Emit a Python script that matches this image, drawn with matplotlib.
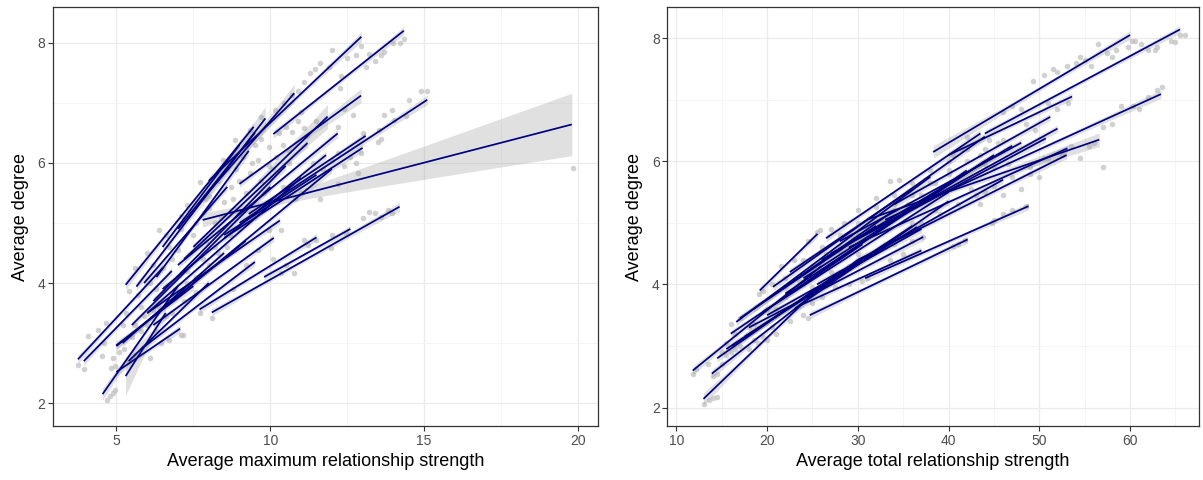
import numpy as np
import matplotlib
matplotlib.use("Agg")
import matplotlib.pyplot as plt
from matplotlib.ticker import MultipleLocator

plt.rcParams['font.family'] = ['Liberation Sans', 'DejaVu Sans']

# ---- fitted lines per network: average maximum relationship strength ----
max_x0 = [8.0, 10.1, 7.8, 5.30, 5.65, 3.75, 3.94, 4.55, 5.0, 4.99, 5.3, 7.8, 9.0, 8.5, 9.3,
          8.1, 7.7, 9.8, 6.3, 5.9, 7.5, 7.0, 6.5, 7.2, 6.2, 6.0, 5.5, 6.8, 6.0, 6.2, 5.2,
          5.0, 5.4, 5.8, 9.0, 8.5, 6.5, 7.0]
max_y0 = [5.70, 6.48, 5.40, 3.97, 3.94, 2.73, 2.70, 2.15, 2.52, 2.96, 2.45, 5.05, 5.00, 4.75, 5.15,
          3.51, 3.56, 4.10, 4.10, 4.00, 4.60, 4.30, 3.90, 4.40, 3.70, 3.50, 3.30, 3.70, 3.50, 3.30, 3.00,
          2.95, 2.70, 2.90, 5.65, 4.80, 4.60, 4.90]
max_x1 = [12.96, 14.34, 10.78, 9.46, 9.84, 6.5, 6.8, 7.0, 7.07, 7.5, 6.6, 19.8, 15.1, 13.0, 13.1,
          14.2, 11.5, 12.6, 9.3, 8.6, 11.86, 12.19, 11.81, 11.21, 10.5, 11.0, 10.0, 12.0, 10.31, 10.11, 8.5,
          9.2, 8.0, 9.5, 12.95, 11.5, 9.0, 9.5]
max_y1 = [8.10, 8.20, 7.16, 6.60, 6.74, 4.25, 4.20, 3.95, 3.24, 3.95, 3.50, 6.64, 7.05, 6.25, 6.45,
          5.27, 4.76, 4.90, 6.20, 5.60, 6.77, 6.49, 6.13, 6.33, 5.95, 5.75, 5.60, 5.90, 5.04, 4.75, 4.50,
          4.70, 4.00, 4.35, 7.12, 5.80, 6.30, 6.50]
max_se0 = [.07, .07, .07, .08, .07, .07, .07, .10, .07, .07, .32, .12, .07, .06, .06,
           .06, .06, .06, .06, .06, .06, .06, .06, .06, .06, .06, .06, .06, .06, .06, .06,
           .06, .06, .06, .06, .06, .06, .06]
max_se1 = [.08, .07, .15, .08, .20, .07, .07, .07, .07, .07, .12, .52, .08, .07, .07,
           .07, .06, .06, .08, .06, .20, .07, .07, .07, .07, .07, .07, .07, .06, .06, .06,
           .06, .06, .06, .12, .06, .06, .06]

# ---- fitted lines per network: average total relationship strength ----
tot_x0 = [11.8, 12.98, 13.9, 16.6, 16.1, 19.18, 20.65, 24.7, 30.8, 38.3, 26.5, 33.0, 31.0, 44.0,
          40.0, 34.0, 30.0, 29.0, 27.0, 22.0, 21.0, 18.0, 17.5, 15.5, 20.0, 23.0, 24.0, 26.0,
          28.0, 22.5, 17.0, 19.5, 25.5, 30.0, 14.5, 16.0, 23.5, 18.5]
tot_y0 = [2.60, 2.14, 2.55, 3.39, 3.00, 3.90, 3.96, 3.50, 4.10, 6.15, 4.75, 5.05, 5.05, 6.45,
          6.10, 5.30, 4.75, 4.60, 4.50, 3.85, 3.70, 3.30, 3.15, 2.95, 3.50, 3.60, 4.10, 4.40,
          4.70, 4.20, 3.45, 3.55, 4.00, 4.40, 2.80, 3.20, 3.65, 3.60]
tot_x1 = [26.0, 24.0, 30.0, 38.0, 36.0, 25.55, 44.0, 42.1, 48.8, 60.0, 43.5, 63.4, 56.6, 65.5,
          53.6, 51.2, 52.0, 53.1, 50.7, 45.0, 42.0, 37.2, 36.5, 33.0, 37.0, 40.0, 44.0, 47.0,
          48.0, 36.0, 34.0, 40.0, 46.0, 53.0, 28.0, 30.5, 37.0, 32.0]
tot_y1 = [4.30, 3.70, 4.40, 5.75, 4.95, 4.82, 6.40, 4.73, 5.27, 8.05, 6.45, 7.09, 6.35, 8.14,
          7.05, 6.72, 6.53, 6.21, 6.37, 6.10, 5.85, 4.77, 4.93, 4.65, 4.90, 5.35, 6.00, 6.25,
          6.30, 5.55, 5.20, 5.50, 5.70, 6.10, 4.20, 4.65, 4.55, 4.95]
tot_se0 = [.07, .10, .07, .06, .06, .06, .06, .06, .06, .10, .06, .06, .06, .06,
           .06, .06, .06, .06, .06, .06, .06, .06, .06, .06, .06, .06, .06, .06,
           .06, .06, .06, .06, .06, .06, .06, .06, .06, .06]
tot_se1 = [.06, .06, .06, .06, .06, .06, .06, .06, .06, .07, .07, .07, .11, .06,
           .06, .06, .06, .06, .06, .06, .06, .06, .06, .06, .06, .06, .06, .06,
           .06, .06, .06, .06, .06, .06, .06, .06, .06, .06]

# ---- observations (average maximum strength, average degree) ----
max_pts_x = [14.34, 14.2, 13.6, 13.7, 12.96, 13.2, 12.8, 12.5, 12.0, 11.9, 11.6, 11.46, 11.3, 12.27,
             13.4, 13.1, 12.3, 11.1, 10.9, 14.0, 14.9, 15.09, 14.5, 13.96, 14.02, 13.7, 14.4, 13.52,
             13.6, 13.5, 13.02, 12.96, 12.6, 12.4, 12.84, 12.2, 12.0, 19.84, 10.71, 11.1, 10.5, 10.4,
             9.96, 9.7, 10.2, 10.6, 11.4, 11.7, 11.2, 11.5, 11.0, 12.2, 12.4, 12.7, 13.21, 13.4, 13.6,
             13.84, 13.97, 13.02, 12.46, 11.96, 11.21, 11.1, 10.78, 10.34, 9.96, 10.34, 10.1, 10.5,
             11.5, 12.0, 8.11, 7.71, 9.2, 9.6, 8.8, 3.75, 3.94, 4.52, 4.69, 4.78, 4.88, 4.95, 4.84,
             4.96, 6.09, 6.46, 7.09, 7.15, 6.7, 5.6, 5.4, 5.25, 5.8, 4.4, 4.09, 4.65, 5.4, 5.59, 6.4,
             7.09, 7.71, 8.0, 8.46, 8.84, 9.34, 9.71, 10.15, 10.46, 10.71, 6.0, 6.6, 7.3, 8.71, 9.34,
             9.96, 8.9, 8.2, 7.5, 7.0, 6.5, 7.3, 8.0, 8.6, 9.0, 7.9, 6.9, 6.2, 6.6, 7.6, 8.3, 9.3,
             9.8, 10.4, 10.8, 11.0, 8.0, 8.5, 9.0, 9.6, 7.6, 6.8, 6.3, 5.8, 5.2, 4.6, 6.0,
             6.2, 6.7, 7.1, 7.4, 7.9, 8.3, 8.6, 9.1, 9.5, 8.4, 8.8, 9.2, 9.7, 10.1, 10.6, 6.4,
             6.9, 7.3, 7.8, 8.2, 8.7, 9.1, 9.5, 10.0, 10.5, 5.6, 5.9, 6.3, 6.8, 7.2, 7.6, 5.1,
             5.5, 4.9, 5.3, 5.7, 6.1, 11.6, 12.2, 12.8, 8.9, 9.4, 10.3, 10.9]
max_pts_y = [8.07, 7.99, 7.79, 7.85, 7.94, 7.82, 7.80, 7.75, 7.88, 7.60, 7.66, 7.57, 7.50, 7.24,
             7.70, 7.60, 7.45, 7.35, 7.20, 8.00, 7.20, 7.19, 7.05, 6.88, 6.71, 6.80, 6.78, 6.55,
             6.40, 6.35, 6.49, 6.16, 6.10, 5.95, 5.83, 6.16, 6.05, 5.91, 6.52, 6.58, 6.60, 6.30,
             6.27, 6.40, 6.10, 6.20, 6.00, 5.90, 6.45, 6.70, 6.85, 6.60, 6.90, 6.80, 5.19, 5.17, 5.10,
             5.22, 5.16, 5.08, 4.83, 4.58, 4.64, 4.72, 4.17, 4.17, 4.89, 4.89, 4.40, 4.30,
             4.72, 4.80, 3.42, 3.50, 4.30, 4.55, 3.90, 2.63, 2.57, 2.79, 2.06, 2.12, 2.17, 2.22, 2.59,
             2.62, 2.75, 3.00, 3.14, 3.13, 3.05, 2.80, 2.70, 2.90, 3.20, 3.22, 3.11, 3.33, 3.86, 4.25, 4.89,
             5.11, 5.69, 5.45, 6.05, 6.38, 6.55, 6.77, 6.88, 6.99, 7.13, 4.50, 4.80, 5.30, 5.60, 5.83,
             5.95, 5.20, 5.00, 4.80, 4.55, 4.25, 4.00, 4.30, 4.60, 4.90, 4.70, 3.75, 3.55, 3.45, 4.10, 4.50, 5.30,
             5.50, 5.60, 5.40, 5.50, 5.25, 5.35, 5.70, 6.05, 5.00, 4.40, 3.90, 3.60, 3.30, 3.00, 3.30,
             4.30, 4.60, 4.90, 5.20, 5.40, 5.70, 5.90, 6.10, 6.30, 5.10, 5.40, 5.50, 5.70, 5.90, 6.00, 3.60,
             3.90, 4.20, 4.40, 4.60, 4.80, 5.00, 5.10, 5.30, 5.45, 3.30, 3.45, 3.20, 3.50, 3.70, 3.85, 2.85,
             3.10, 2.75, 3.50, 3.80, 4.00, 5.40, 5.65, 6.00, 5.90, 6.00, 6.50, 6.70]

# ---- observations (average total strength, average degree) ----
tot_pts_x = [59.8, 60.5, 61.2, 62.0, 63.0, 64.5, 65.0, 65.5, 66.0, 58.5, 57.5, 56.5, 55.7, 55.0,
             54.0, 53.0, 52.0, 51.5, 50.5, 49.3, 54.5, 58.0, 60.2, 62.8, 63.5, 63.0, 62.0, 61.0,
             59.0, 58.0, 57.0, 60.3, 57.0, 56.0, 55.5, 54.5, 53.5, 52.5, 50.5, 49.5, 48.5, 48.0,
             47.0, 46.0, 51.0, 52.0, 53.2, 45.5, 44.5, 43.5, 42.0, 40.5, 41.5, 44.0, 45.0, 46.5,
             48.0, 49.0, 50.0, 46.0, 44.0, 42.5, 43.5, 40.0, 38.5, 39.0, 48.5, 47.0, 46.0, 45.0,
             44.8, 41.8, 41.0, 40.5, 37.2, 36.5, 36.0, 35.0, 34.0, 33.5, 31.0, 30.5, 29.0, 27.5,
             26.0, 25.0, 24.5, 24.0, 22.5, 21.0, 20.0, 19.0, 18.0, 33.5, 34.5, 32.0, 30.0, 28.5,
             27.0, 25.5, 25.8, 24.5, 23.0, 21.5, 19.1, 19.5, 20.5, 22.0, 23.5, 25.0, 26.5, 28.0,
             29.5, 31.0, 32.5, 34.0, 35.5, 37.0, 38.5, 40.0, 36.0, 33.0, 30.0, 27.0, 24.0, 21.0,
             18.0, 16.5, 15.5, 17.0, 16.0, 11.8, 12.2, 13.5, 13.0, 13.6, 14.0, 14.5, 14.0, 14.5,
             15.0, 15.5, 16.0, 17.0, 18.5, 19.5, 20.5,
             20.0, 22.0, 24.0, 26.0, 28.0, 30.0, 32.0, 34.0, 36.0, 38.0, 40.0, 42.0, 44.0, 46.0,
             18.5, 21.0, 23.0, 25.0, 27.0, 29.0, 31.0, 33.0, 35.0, 37.0, 39.0, 41.0, 43.0, 45.0,
             47.0, 49.0, 51.0, 26.0, 28.0, 30.0, 32.0, 34.0, 36.0, 38.0, 40.0, 42.0, 22.0, 24.0,
             16.5, 15.0]
tot_pts_y = [7.85, 7.96, 7.90, 7.80, 7.85, 7.95, 7.93, 8.05, 8.05, 7.80, 7.75, 7.90, 7.55, 7.65,
             7.60, 7.55, 7.45, 7.50, 7.40, 7.30, 7.70, 7.70, 7.95, 7.80, 7.20, 7.15, 7.05, 6.85,
             6.90, 6.60, 6.55, 6.90, 5.90, 6.30, 6.25, 6.05, 6.25, 6.10, 6.05, 6.50, 6.60, 6.85,
             6.90, 6.80, 6.95, 6.85, 6.95, 6.30, 6.35, 6.10, 6.40, 6.10, 6.20, 5.95, 5.90, 5.95,
             5.55, 5.80, 5.75, 5.45, 5.50, 5.55, 5.30, 5.55, 5.20, 5.45, 5.27, 5.20, 5.15, 5.05,
             5.00, 4.72, 4.65, 4.62, 4.77, 4.93, 4.70, 4.50, 4.65, 4.40, 4.10, 4.05, 4.00, 3.95,
             3.80, 3.70, 3.45, 3.50, 3.40, 3.20, 3.10, 3.05, 2.95, 5.68, 5.70, 5.40, 5.20, 5.00,
             4.90, 4.85, 4.88, 4.70, 4.40, 4.30, 3.85, 3.90, 4.00, 3.95, 4.05, 4.30, 4.50, 4.60,
             4.75, 4.90, 5.05, 5.20, 5.30, 5.45, 5.65, 5.80, 5.00, 4.90, 4.50, 4.20, 4.00, 3.60,
             3.30, 3.20, 3.05, 3.45, 3.35, 2.55, 2.62, 2.70, 2.05, 2.12, 2.15, 2.17, 2.52, 2.55,
             2.70, 2.85, 2.90, 3.00, 3.10, 3.15, 3.30,
             3.60, 3.80, 4.15, 4.35, 4.55, 4.80, 5.00, 5.30, 5.45, 5.65, 5.85, 6.00, 6.20, 6.35,
             3.35, 3.50, 3.70, 3.95, 4.10, 4.30, 4.45, 4.60, 4.80, 5.00, 5.15, 5.30, 5.45, 5.60,
             5.75, 5.90, 6.05, 4.60, 4.80, 5.00, 5.25, 5.45, 5.65, 5.85, 6.00, 6.20, 4.10, 4.40,
             2.95, 2.90]

LINE_COLOR = '#000080'
BAND_COLOR = '#999999'
POINT_COLOR = '#BEBEBE'


def ribbon(x0, y0, x1, y1, w0, w1, n=80):
    """Hyperbolic confidence ribbon around a straight fit."""
    xs = np.linspace(x0, x1, n)
    ys = y0 + (y1 - y0) * (xs - x0) / (x1 - x0)
    m = 0.55 * min(w0, w1)
    a0, a1 = w0 ** 2 - m ** 2, w1 ** 2 - m ** 2
    r = np.sqrt(a0 / a1)
    c = (x0 + r * x1) / (1 + r)
    k2 = a1 / (x1 - c) ** 2
    h = np.sqrt(m ** 2 + k2 * (xs - c) ** 2)
    return xs, ys - h, ys + h


def panel(ax, px, py, x0s, y0s, x1s, y1s, se0, se1, xlim, ylim, xmaj, xmin, xlabel):
    ax.set_facecolor('white')
    ax.scatter(px, py, s=16, color=POINT_COLOR, alpha=0.7, linewidths=0, zorder=2)
    for x0, y0, x1, y1, w0, w1 in zip(x0s, y0s, x1s, y1s, se0, se1):
        xs, lo, hi = ribbon(x0, y0, x1, y1, w0, w1)
        ax.fill_between(xs, lo, hi, color=BAND_COLOR, alpha=0.3, linewidth=0, zorder=3)
        ax.plot([x0, x1], [y0, y1], color=LINE_COLOR, lw=1.25, solid_capstyle='butt', zorder=4)
    ax.set_xlim(*xlim)
    ax.set_ylim(*ylim)
    ax.xaxis.set_major_locator(MultipleLocator(xmaj))
    ax.xaxis.set_minor_locator(MultipleLocator(xmin))
    ax.yaxis.set_major_locator(MultipleLocator(2))
    ax.yaxis.set_minor_locator(MultipleLocator(1))
    ax.grid(which='major', color='#EBEBEB', lw=0.9, zorder=0)
    ax.grid(which='minor', color='#F2F2F2', lw=0.5, zorder=0)
    ax.set_axisbelow(True)
    for s in ax.spines.values():
        s.set_color('#333333')
        s.set_linewidth(0.9)
    ax.tick_params(which='major', direction='out', length=3.5, width=0.8, color='#333333',
                   labelcolor='#4D4D4D', labelsize=10, pad=2)
    ax.tick_params(which='minor', length=0)
    ax.set_xlabel(xlabel, fontsize=13, color='black', labelpad=4)
    ax.set_ylabel('Average degree', fontsize=13, color='black', labelpad=6)


fig = plt.figure(figsize=(12.03, 4.8), dpi=100)
ax1 = fig.add_axes([0.0438, 0.1125, 0.4533, 0.8723])
ax2 = fig.add_axes([0.5547, 0.1125, 0.4420, 0.8723])

panel(ax1, max_pts_x, max_pts_y, max_x0, max_y0, max_x1, max_y1, max_se0, max_se1,
      (2.93, 20.65), (1.62, 8.59), 5, 2.5, 'Average maximum relationship strength')
panel(ax2, tot_pts_x, tot_pts_y, tot_x0, tot_y0, tot_x1, tot_y1, tot_se0, tot_se1,
      (9.0, 67.6), (1.70, 8.50), 10, 5, 'Average total relationship strength')

fig.savefig('out.png', dpi=100, facecolor='white')
